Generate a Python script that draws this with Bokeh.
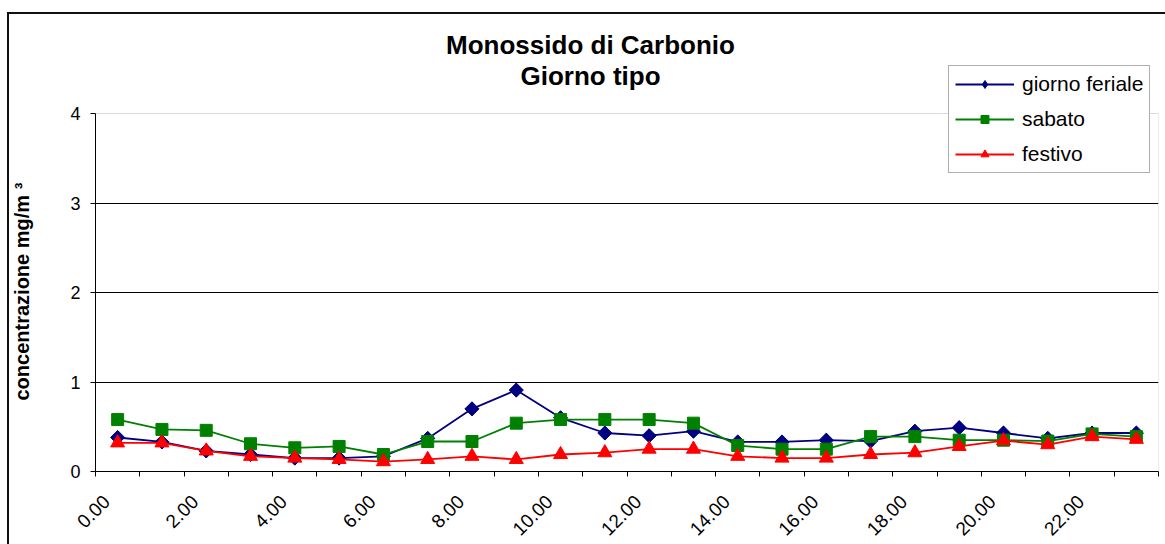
from math import pi
from bokeh.plotting import figure
from bokeh.models import (FixedTicker, Legend, LegendItem, Label, ColumnDataSource,
                          Range1d, BoxAnnotation, Title)
from bokeh.embed import file_html
from bokeh.resources import INLINE

# ---- data ----
hours = [h + 0.5 for h in range(24)]
tick_labels = ["0.00", "2.00", "4.00", "6.00", "8.00", "10.00",
               "12.00", "14.00", "16.00", "18.00", "20.00", "22.00"]
y_ticks = [0, 1, 2, 3, 4]
giorno_feriale = [0.38, 0.33, 0.23, 0.19, 0.15, 0.15, 0.17, 0.37, 0.70, 0.91,
                  0.60, 0.43, 0.40, 0.45, 0.33, 0.33, 0.35, 0.34, 0.45, 0.49,
                  0.43, 0.37, 0.43, 0.43]
sabato = [0.58, 0.47, 0.46, 0.31, 0.265, 0.28, 0.19, 0.335, 0.335, 0.54,
          0.58, 0.58, 0.58, 0.54, 0.29, 0.25, 0.25, 0.39, 0.39, 0.35,
          0.35, 0.34, 0.42, 0.39]
festivo = [0.32, 0.32, 0.23, 0.17, 0.15, 0.135, 0.11, 0.135, 0.17, 0.135,
           0.19, 0.21, 0.25, 0.25, 0.17, 0.15, 0.15, 0.19, 0.21, 0.28,
           0.345, 0.30, 0.39, 0.36]

FONT = "Liberation Sans"
W, H = 1165, 544
FRAME_TOP = 20           # frame starts above the plot area to hold title & legend
PLOT_TOP, PLOT_BOTTOM = 113, 471
YMAX = y_ticks[-1]
ppu = (PLOT_BOTTOM - PLOT_TOP) / YMAX
y_end = YMAX + (PLOT_TOP - FRAME_TOP) / ppu

src = ColumnDataSource(dict(x=hours, f=giorno_feriale, s=sabato, fe=festivo))

p = figure(width=W, height=H, output_backend="svg", toolbar_location=None,
           x_range=Range1d(0, 24), y_range=Range1d(0, y_end),
           min_border_left=95, min_border_right=W - 1158, min_border_top=FRAME_TOP,
           min_border_bottom=H - PLOT_BOTTOM)
p.background_fill_color = "white"
p.border_fill_color = "white"
p.outline_line_color = None
# outer chart frame (left and top edges visible)
p.stylesheets = [
    ":host::before { content: ''; position: absolute; left: 7px; top: 12px; "
    "width: 2px; height: 532px; background: #111; border: 0 none; "
    "pointer-events: none; z-index: 10; }",
    ":host::after { content: ''; position: absolute; left: 7px; top: 12px; "
    "width: 1158px; height: 2px; background: #111; border: 0 none; "
    "pointer-events: none; z-index: 10; }",
]

# plot-area border (grey, top and right visible)
p.add_layout(BoxAnnotation(left=0, right=24, bottom=0, top=YMAX,
                           fill_color=None, line_color="#808080", line_width=1,
                           level="underlay"))

# grid
p.xgrid.visible = False
p.ygrid.ticker = FixedTicker(ticks=y_ticks[1:-1])
p.ygrid.grid_line_color = "black"
p.ygrid.grid_line_width = 1

# x axis
major = [2 * i + 0.25 for i in range(len(tick_labels))]
p.xaxis.ticker = FixedTicker(ticks=major, minor_ticks=list(range(25)))
p.xaxis.major_label_overrides = {m: t for m, t in zip(major, tick_labels)}
p.xaxis.major_label_orientation = pi / 4
p.xaxis.major_tick_line_color = None
p.xaxis.major_tick_out = 5
p.xaxis.major_tick_in = 0
p.xaxis.minor_tick_line_color = "black"
p.xaxis.minor_tick_out = 5
p.xaxis.minor_tick_in = 0
p.xaxis.axis_line_color = "black"
p.xaxis.major_label_text_font = FONT
p.xaxis.major_label_text_font_size = "19px"
p.xaxis.major_label_text_color = "black"
p.xaxis.major_label_standoff = 22

# y axis
p.yaxis.ticker = FixedTicker(ticks=y_ticks, minor_ticks=[])
p.yaxis.bounds = (0, YMAX)
p.yaxis.major_tick_out = 5
p.yaxis.major_tick_in = 0
p.yaxis.major_tick_line_color = "black"
p.yaxis.axis_line_color = "black"
p.yaxis.major_label_text_font = FONT
p.yaxis.major_label_text_font_size = "18px"
p.yaxis.major_label_text_color = "black"
p.yaxis.major_label_standoff = 10

# y-axis title: a spacer panel then the rotated label
p.add_layout(Title(text=" ", text_font_size="10px", standoff=22), "left")
p.add_layout(Title(text="concentrazione mg/m \u00b3", align="left", offset=71,
                   vertical_align="bottom", standoff=0,
                   text_font=FONT, text_font_style="bold", text_font_size="20px",
                   text_color="black"), "left")

# series
l1 = p.line("x", "f", source=src, line_color="#000080", line_width=1.8)
m1_leg = p.scatter("x", "f", source=src, marker="diamond", size=13,
                   fill_color="#000080", line_color="#000080", line_width=1)
m1 = p.scatter("x", "f", source=src, marker="square", angle=pi / 4, size=10,
               fill_color="#000080", line_color="#000080")
l2 = p.line("x", "s", source=src, line_color="#008000", line_width=1.8)
m2 = p.scatter("x", "s", source=src, marker="square", size=12,
               fill_color="#008000", line_color="#008000")
l3 = p.line("x", "fe", source=src, line_color="#FF0000", line_width=1.8)
m3 = p.scatter("x", "fe", source=src, marker="triangle", size=14,
               fill_color="#FF0000", line_color="#FF0000")

legend = Legend(items=[
    LegendItem(label="giorno feriale", renderers=[l1, m1_leg]),
    LegendItem(label="sabato", renderers=[l2, m2]),
    LegendItem(label="festivo", renderers=[l3, m3]),
], location=(948 - 95, PLOT_BOTTOM - 173))
legend.label_text_font = FONT
legend.label_text_font_size = "21px"
legend.label_text_color = "black"
legend.glyph_width = 59
legend.glyph_height = 20
legend.label_height = 20
legend.label_standoff = 8
legend.spacing = 11
legend.padding = 6
legend.margin = 0
legend.border_line_color = "#606060"
legend.border_line_width = 1
legend.background_fill_color = "white"
legend.background_fill_alpha = 1
p.add_layout(legend, "center")

# title (two lines)
for txt, base in (("Monossido di Carbonio", 44), ("Giorno tipo", 75)):
    p.add_layout(Label(x=590 - 95, y=PLOT_BOTTOM - base, x_units="screen",
                       y_units="screen", text=txt, text_align="center",
                       text_baseline="alphabetic", text_font=FONT,
                       text_font_style="bold", text_font_size="26px",
                       text_color="black"))

open("out.html", "w").write(file_html(p, INLINE))
